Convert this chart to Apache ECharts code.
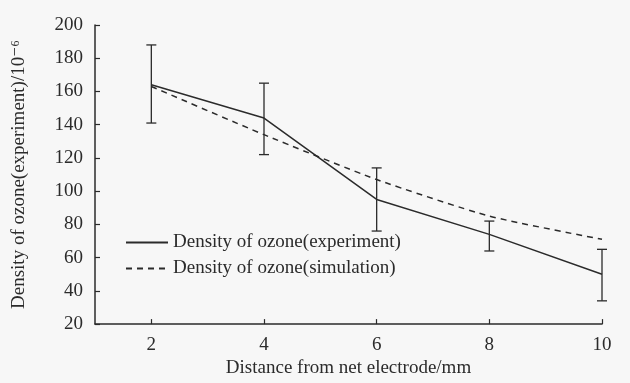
<!DOCTYPE html>
<html>
<head>
<meta charset="utf-8">
<script src="https://cdn.jsdelivr.net/npm/echarts@6/dist/echarts.min.js"></script>
<style>
  html, body { margin: 0; padding: 0; background: #f7f7f7; }
  #main { width: 630px; height: 383px; }
</style>
</head>
<body>
<div id="main"></div>
<script>
var distance = [2, 4, 6, 8, 10];
var experiment = [164, 144, 95, 74, 50];
var errLow = [141, 122, 76, 64, 34];
var errHigh = [188, 165, 114, 82, 65];
var simulation = [163, 134, 107, 85, 71];
var xTicks = [2, 4, 6, 8, 10];

var fontFam = '"Liberation Serif", "DejaVu Serif", serif';
var ink = '#2b2b2b';
var fs = 19;

function pairs(xs, ys) {
    return xs.map(function (x, i) { return [x, ys[i]]; });
}

var errData = distance.map(function (x, i) { return [x, errLow[i], errHigh[i]]; });

var myChart = echarts.init(document.getElementById('main'));

var option = {
    backgroundColor: '#f7f7f7',
    animation: false,
    textStyle: { fontFamily: fontFam, color: ink },
    grid: { left: 95, right: 28, top: 25, bottom: 57 },
    legend: {
        orient: 'vertical',
        left: 120,
        top: 228,
        itemWidth: 42,
        itemHeight: 10,
        itemGap: 7,
        itemStyle: { opacity: 0 },
        data: ['Density of ozone(experiment)', 'Density of ozone(simulation)'],
        textStyle: { fontFamily: fontFam, fontSize: fs, color: ink }
    },
    xAxis: {
        type: 'value',
        min: 1,
        max: 10,
        interval: 1,
        name: 'Distance from net electrode/mm',
        nameLocation: 'middle',
        nameGap: 32,
        nameTextStyle: { fontFamily: fontFam, fontSize: fs, color: ink },
        axisLine: { lineStyle: { color: ink, width: 1.5 } },
        axisTick: {
            inside: true, length: 5,
            lineStyle: { color: ink, width: 1.2 },
            customValues: xTicks
        },
        axisLabel: {
            fontFamily: fontFam, fontSize: fs, color: ink, margin: 11,
            customValues: xTicks
        },
        splitLine: { show: false }
    },
    yAxis: {
        type: 'value',
        min: 20,
        max: 200,
        interval: 20,
        name: 'Density of ozone(experiment)/10⁻⁶',
        nameLocation: 'middle',
        nameGap: 66,
        nameTextStyle: { fontFamily: fontFam, fontSize: fs, color: ink },
        axisLine: { show: true, lineStyle: { color: ink, width: 1.5 } },
        axisTick: { show: true, inside: true, length: 5, lineStyle: { color: ink, width: 1.2 } },
        axisLabel: { fontFamily: fontFam, fontSize: fs, color: ink, margin: 12 },
        splitLine: { show: false }
    },
    series: [
        {
            name: 'Density of ozone(experiment)',
            type: 'line',
            symbol: 'none',
            data: pairs(distance, experiment),
            lineStyle: { color: ink, width: 1.5 },
            itemStyle: { color: ink }
        },
        {
            name: 'Density of ozone(simulation)',
            type: 'line',
            symbol: 'none',
            smooth: 0.2,
            data: pairs(distance, simulation),
            lineStyle: { color: ink, width: 1.5, type: [6, 5] },
            itemStyle: { color: ink }
        },
        {
            name: 'error',
            type: 'custom',
            data: errData,
            renderItem: function (params, api) {
                var lo = api.coord([api.value(0), api.value(1)]);
                var hi = api.coord([api.value(0), api.value(2)]);
                var w = 5;
                var st = { stroke: ink, lineWidth: 1.3 };
                return {
                    type: 'group',
                    children: [
                        { type: 'line', shape: { x1: lo[0], y1: lo[1], x2: hi[0], y2: hi[1] }, style: st },
                        { type: 'line', shape: { x1: hi[0] - w, y1: hi[1], x2: hi[0] + w, y2: hi[1] }, style: st },
                        { type: 'line', shape: { x1: lo[0] - w, y1: lo[1], x2: lo[0] + w, y2: lo[1] }, style: st }
                    ]
                };
            },
            z: 3
        }
    ]
};

myChart.setOption(option);
</script>
</body>
</html>
